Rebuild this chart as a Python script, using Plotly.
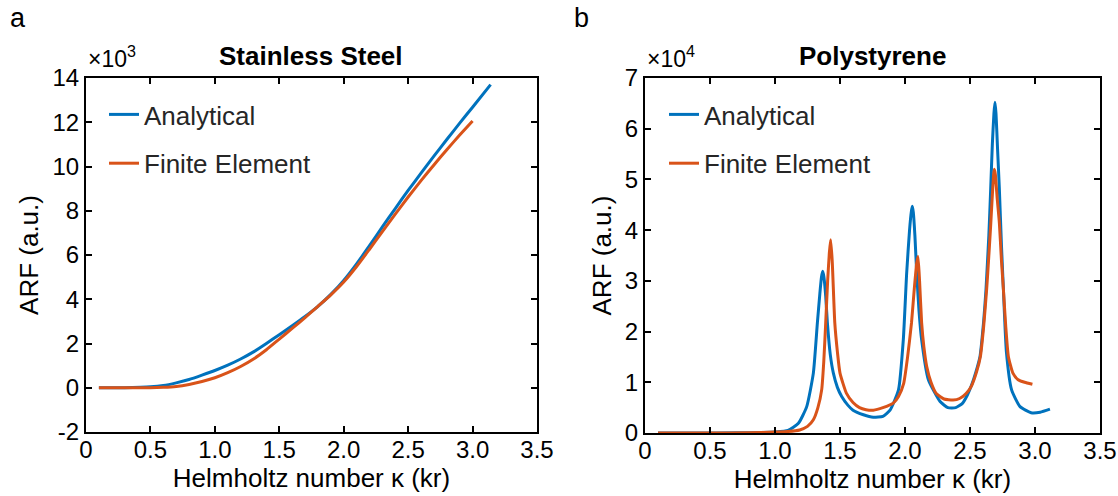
import plotly.graph_objects as go

# ---------------- Data ----------------
# Panel a: Stainless Steel (ARF in units of 10^3)
ss_ana_x = [0.1, 0.3, 0.5, 0.6, 0.7, 0.8, 0.9, 1.0, 1.1, 1.2, 1.3, 1.4, 1.5, 1.6, 1.7,
            1.8, 1.9, 2.0, 2.1, 2.2, 2.3, 2.4, 2.5, 2.6, 2.7, 2.8, 2.9, 3.0, 3.14]
ss_ana_y = [0.0, 0.005, 0.04, 0.1, 0.22, 0.37, 0.57, 0.78, 1.02, 1.3, 1.62, 2.0, 2.4, 2.8, 3.22,
            3.68, 4.22, 4.85, 5.6, 6.42, 7.27, 8.1, 8.92, 9.7, 10.47, 11.22, 11.96, 12.68, 13.7]

ss_fe_x = [0.1, 0.3, 0.5, 0.6, 0.7, 0.8, 0.9, 1.0, 1.1, 1.2, 1.3, 1.4, 1.5, 1.6, 1.7,
           1.8, 1.9, 2.0, 2.1, 2.2, 2.3, 2.4, 2.5, 2.6, 2.7, 2.8, 2.9, 3.0]
ss_fe_y = [0.0, 0.0, 0.0, 0.02, 0.06, 0.15, 0.28, 0.45, 0.68, 0.96, 1.3, 1.72, 2.2, 2.68, 3.17,
           3.68, 4.2, 4.78, 5.48, 6.26, 7.06, 7.85, 8.62, 9.36, 10.07, 10.76, 11.42, 12.06]

# Panel b: Polystyrene (ARF in units of 10^4)
ps_ana_x = [0.1, 0.4, 0.7, 0.9, 1.0, 1.1, 1.18, 1.244, 1.295, 1.326, 1.345, 1.358, 1.367, 1.376,
            1.39, 1.403, 1.425, 1.449, 1.48, 1.513, 1.56, 1.60, 1.68, 1.756, 1.83, 1.885, 1.95,
            1.987, 2.013, 2.035, 2.048, 2.056, 2.064, 2.076, 2.09, 2.108, 2.128, 2.18, 2.27,
            2.33, 2.39, 2.44, 2.48, 2.513, 2.545, 2.577, 2.605, 2.623, 2.645, 2.659, 2.672,
            2.684, 2.692, 2.70, 2.712, 2.726, 2.742, 2.757, 2.78, 2.82, 2.885, 2.97, 3.04, 3.115]
ps_ana_y = [0.0, 0.0, 0.003, 0.01, 0.02, 0.05, 0.19, 0.52, 1.18, 2.17, 2.75, 3.08, 3.19, 3.08,
            2.7, 2.17, 1.55, 1.18, 0.9, 0.72, 0.55, 0.45, 0.36, 0.31, 0.33, 0.45, 0.85,
            1.84, 3.16, 4.0, 4.35, 4.47, 4.35, 3.9, 3.16, 2.4, 1.84, 1.05, 0.62,
            0.5, 0.5, 0.58, 0.75, 0.95, 1.2, 1.51, 2.2, 2.83, 3.9, 4.8, 5.7,
            6.3, 6.52, 6.3, 5.6, 4.8, 3.7, 2.83, 1.6, 0.85, 0.52, 0.40, 0.41, 0.47]

ps_fe_x = [0.1, 0.5, 0.8, 1.0, 1.1, 1.19, 1.25, 1.295, 1.33, 1.359, 1.375, 1.39, 1.405, 1.418,
           1.428, 1.44, 1.46, 1.48, 1.50, 1.55, 1.60, 1.65, 1.70, 1.756, 1.83, 1.91, 1.95,
           1.99, 2.02, 2.05, 2.07, 2.09, 2.10, 2.112, 2.128, 2.145, 2.167, 2.2, 2.24, 2.3,
           2.37, 2.42, 2.47, 2.51, 2.55, 2.58, 2.605, 2.628, 2.645, 2.66, 2.672, 2.682,
           2.687, 2.695, 2.71, 2.726, 2.742, 2.757, 2.775, 2.795, 2.83, 2.87, 2.92, 2.98]
ps_fe_y = [0.0, 0.0, 0.005, 0.02, 0.03, 0.06, 0.13, 0.26, 0.5, 0.85, 1.4, 2.17, 3.0, 3.55,
           3.81, 3.4, 2.17, 1.6, 1.18, 0.78, 0.6, 0.5, 0.46, 0.45, 0.5, 0.59, 0.72,
           0.98, 1.5, 2.17, 2.8, 3.35, 3.48, 3.0, 2.17, 1.7, 1.31, 1.0, 0.78, 0.67,
           0.65, 0.68, 0.78, 0.92, 1.2, 1.51, 2.1, 2.83, 3.5, 4.14, 4.7, 5.1,
           5.2, 5.1, 4.6, 4.14, 3.4, 2.83, 2.1, 1.51, 1.18, 1.05, 1.0, 0.96]

x_tickvals = [0, 0.5, 1.0, 1.5, 2.0, 2.5, 3.0, 3.5]
x_ticktext = ["0", "0.5", "1.0", "1.5", "2.0", "2.5", "3.0", "3.5"]
ss_yticks = [-2, 0, 2, 4, 6, 8, 10, 12, 14]
ss_yticktext = ["-2", "0", "2", "4", "6", "8", "10", "12", "14"]
ps_yticks = [0, 1, 2, 3, 4, 5, 6, 7]
ps_yticktext = ["0", "1", "2", "3", "4", "5", "6", "7"]

BLUE = "#0072BD"
ORANGE = "#D95319"
FONT = "Liberation Sans, Arial, sans-serif"
W, H = 1118, 496

def px(x):
    return x / W

def py(y):
    return 1 - y / H

fig = go.Figure()
fig.add_trace(go.Scatter(x=ss_ana_x, y=ss_ana_y, mode="lines", name="Analytical",
                         line=dict(color=BLUE, width=3, shape="spline", smoothing=0.6),
                         xaxis="x", yaxis="y", legend="legend", legendgroup="a1"))
fig.add_trace(go.Scatter(x=ss_fe_x, y=ss_fe_y, mode="lines", name="Finite Element",
                         line=dict(color=ORANGE, width=3, shape="spline", smoothing=0.6),
                         xaxis="x", yaxis="y", legend="legend", legendgroup="a2"))
fig.add_trace(go.Scatter(x=ps_ana_x, y=ps_ana_y, mode="lines", name="Analytical",
                         line=dict(color=BLUE, width=3, shape="spline", smoothing=0.5),
                         xaxis="x2", yaxis="y2", legend="legend2", legendgroup="b1"))
fig.add_trace(go.Scatter(x=ps_fe_x, y=ps_fe_y, mode="lines", name="Finite Element",
                         line=dict(color=ORANGE, width=3, shape="spline", smoothing=0.5),
                         xaxis="x2", yaxis="y2", legend="legend2", legendgroup="b2"))

axis_common = dict(showline=True, linewidth=2, linecolor="black", mirror="ticks",
                   ticks="inside", ticklen=6, tickwidth=2, tickcolor="black",
                   showgrid=False, zeroline=False, automargin=False,
                   tickfont=dict(family=FONT, size=24, color="black"))

xtitle = dict(text="Helmholtz number κ (kr)", font=dict(size=26), standoff=0)
ytitle = dict(text="ARF (a.u.)", font=dict(size=26), standoff=6)

fig.update_layout(
    width=W, height=H, autosize=False,
    margin=dict(l=0, r=0, t=0, b=0, autoexpand=False),
    paper_bgcolor="white", plot_bgcolor="white",
    font=dict(family=FONT, color="black"),
    xaxis=dict(domain=[px(86), px(537)], range=[0, 3.5], tickvals=x_tickvals,
               ticktext=x_ticktext, anchor="y", ticklabelstandoff=-5,
               title=xtitle, **axis_common),
    yaxis=dict(domain=[py(432), py(78)], range=[-2, 14], tickvals=ss_yticks,
               ticktext=ss_yticktext, anchor="x",
               title=ytitle, **axis_common),
    xaxis2=dict(domain=[px(645), px(1100)], range=[0, 3.5], tickvals=x_tickvals,
                ticktext=x_ticktext, anchor="y2", ticklabelstandoff=-5,
                title=xtitle, **axis_common),
    yaxis2=dict(domain=[py(433), py(78)], range=[0, 7], tickvals=ps_yticks,
                ticktext=ps_yticktext, anchor="x2",
                title=ytitle, **axis_common),
    legend=dict(x=px(104), y=py(91), xanchor="left", yanchor="top",
                font=dict(family=FONT, size=26, color="#262626"),
                bgcolor="rgba(0,0,0,0)", tracegroupgap=12, traceorder="grouped"),
    legend2=dict(x=px(664), y=py(91), xanchor="left", yanchor="top",
                 font=dict(family=FONT, size=26, color="#262626"),
                 bgcolor="rgba(0,0,0,0)", tracegroupgap=12, traceorder="grouped"),
    showlegend=True,
)

annotations = [
    dict(text="a", x=px(8), y=py(18), xanchor="left", yanchor="middle",
         font=dict(size=27, color="black")),
    dict(text="b", x=px(572), y=py(18), xanchor="left", yanchor="middle",
         font=dict(size=27, color="black")),
    dict(text="<b>Stainless Steel</b>", x=px(311), y=py(56), xanchor="center", yanchor="middle",
         font=dict(size=26, color="black")),
    dict(text="<b>Polystyrene</b>", x=px(872), y=py(56), xanchor="center", yanchor="middle",
         font=dict(size=26, color="black")),
    dict(text="×10<sup>3</sup>", x=px(86), y=py(74), xanchor="left", yanchor="bottom",
         font=dict(size=23, color="black")),
    dict(text="×10<sup>4</sup>", x=px(645), y=py(74), xanchor="left", yanchor="bottom",
         font=dict(size=23, color="black")),
]
for a in annotations:
    a.update(xref="paper", yref="paper", showarrow=False)
fig.update_layout(annotations=annotations)

fig.write_html("out.html")
